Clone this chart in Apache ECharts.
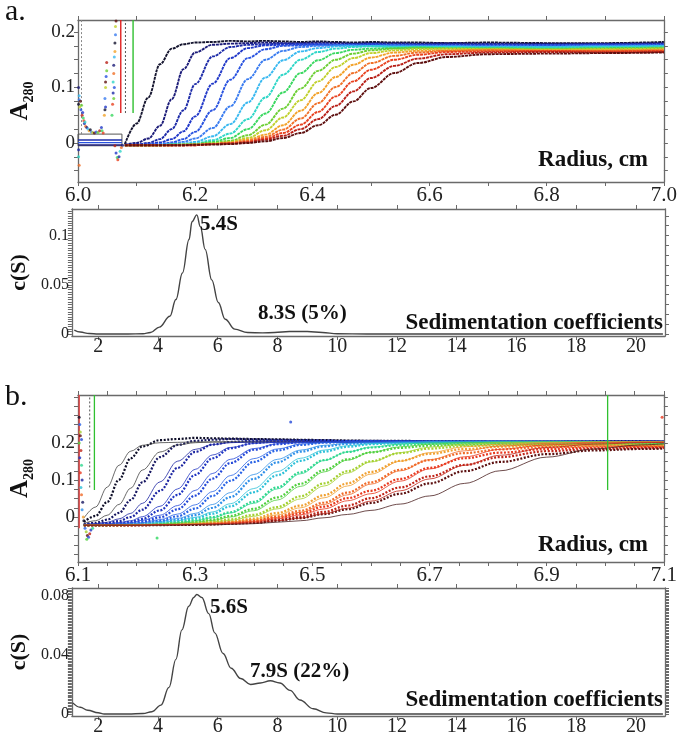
<!DOCTYPE html>
<html><head><meta charset="utf-8">
<script src="https://cdn.jsdelivr.net/npm/echarts@6/dist/echarts.min.js"></script>
<style>html,body{margin:0;padding:0;background:#fff}#c{width:680px;height:740px}</style>
</head><body><div id="c"></div>
<script>
// ---------- Panel a: radial scans (A280 vs radius, cm) ----------
const R_A = [6.08, 6.10, 6.12, 6.14, 6.16, 6.18, 6.20, 6.23, 6.26, 6.29, 6.32, 6.35, 6.38, 6.41, 6.44, 6.47, 6.50, 6.54, 6.58, 6.63, 6.70, 6.80, 6.90, 7.00];
const SCAN_A1 = [-.002, .035, .082, .142, .170, .178, .181, .182, .184, .183, .184, .183, .182, .183, .182, .181, .182, .181, .181, .180, .181, .180, .180, .182];
const SCAN_A2 = [-.003, .000, .008, .031, .079, .133, .163, .177, .179, .180, .181, .180, .180, .181, .180, .179, .180, .180, .179, .180, .179, .179, .179, .180];
const SCAN_A3 = [-.003, -.003, .000, .007, .025, .059, .106, .156, .173, .177, .178, .179, .178, .178, .177, .178, .178, .177, .177, .178, .177, .177, .178, .178];
const SCAN_A4 = [-.004, -.003, -.002, .001, .007, .021, .048, .107, .153, .171, .176, .177, .178, .178, .177, .177, .178, .177, .177, .176, .177, .176, .177, .177];
const SCAN_A5 = [-.004, -.004, -.003, -.002, .001, .007, .020, .059, .114, .153, .169, .175, .176, .177, .177, .176, .177, .176, .176, .176, .175, .176, .176, .177];
const SCAN_A6 = [-.004, -.004, -.003, -.003, -.001, .002, .008, .027, .066, .115, .150, .166, .173, .175, .176, .176, .175, .176, .175, .175, .175, .174, .175, .176];
const SCAN_A7 = [-.004, -.004, -.004, -.003, -.002, -.001, .002, .012, .034, .073, .118, .149, .165, .171, .174, .175, .175, .174, .174, .174, .173, .173, .174, .175];
const SCAN_A8 = [-.004, -.004, -.004, -.004, -.003, -.002, -.001, .005, .017, .043, .082, .123, .150, .164, .170, .173, .174, .173, .173, .173, .172, .172, .173, .174];
const SCAN_A9 = [-.004, -.004, -.004, -.004, -.003, -.003, -.002, .002, .009, .025, .053, .091, .126, .149, .162, .168, .170, .171, .172, .171, .171, .170, .171, .172];
const SCAN_A10 = [-.004, -.004, -.004, -.004, -.003, -.003, -.002, .000, .004, .014, .033, .062, .098, .130, .150, .161, .167, .170, .171, .170, .170, .169, .170, .171];
const SCAN_A11 = [-.004, -.004, -.004, -.004, -.004, -.003, -.003, -.001, .002, .009, .023, .046, .077, .111, .137, .153, .162, .167, .169, .170, .169, .168, .169, .170];
const SCAN_A12 = [-.004, -.004, -.004, -.004, -.004, -.003, -.003, -.002, .001, .006, .015, .032, .058, .090, .119, .141, .154, .163, .166, .167, .168, .167, .167, .168];
const SCAN_A13 = [-.004, -.004, -.004, -.004, -.004, -.004, -.003, -.002, .000, .004, .011, .024, .044, .072, .101, .126, .144, .157, .163, .166, .167, .166, .166, .167];
const SCAN_A14 = [-.004, -.004, -.004, -.004, -.004, -.004, -.004, -.002, -.001, .002, .008, .018, .033, .056, .084, .111, .132, .150, .159, .164, .165, .166, .165, .166];
const SCAN_A15 = [-.004, -.004, -.004, -.004, -.004, -.004, -.004, -.002, -.001, .001, .006, .013, .025, .043, .067, .093, .117, .139, .152, .160, .163, .164, .163, .164];
const SCAN_A16 = [-.004, -.004, -.004, -.004, -.004, -.004, -.003, -.003, -.002, .000, .003, .009, .018, .032, .051, .075, .099, .126, .144, .155, .160, .161, .162, .163];
// meniscus region debris, [radius, A280]
const DEBRIS_A = [[6.001,0.07],[6.002,0.078],[6.003,0.065],[6.004,0.075],[6.005,0.06],[6.006,0.068],[6.007,0.05],[6.008,0.055],[6.009,0.045],[6.010,0.04],[6.011,0.035],[6.012,0.038],[6.013,0.03],[6.015,0.028],[6.017,0.025],[6.019,0.022],[6.021,0.024],[6.023,0.02],[6.025,0.019],[6.028,0.018],[6.031,0.02],[6.034,0.019],[6.037,0.022],[6.040,0.028],[6.041,0.022],[6.043,0.018],
  [6.001,-0.012],[6.001,-0.025],[6.002,-0.04],[6.001,0.1],[6.002,0.085],
  [6.045,0.05],[6.046,0.06],[6.046,0.08],[6.047,0.1],[6.047,0.11],[6.048,0.12],[6.049,0.13],[6.049,0.145],[6.047,0.065],
  [6.058,0.05],[6.059,0.07],[6.060,0.09],[6.060,0.11],[6.061,0.125],[6.061,0.14],[6.062,0.155],[6.063,0.165],[6.063,0.18],[6.064,0.195],[6.064,0.21],[6.065,0.22],[6.062,0.1],[6.061,0.08],
  [6.063,-0.005],[6.065,-0.018],[6.067,-0.026],[6.068,-0.03],[6.070,-0.025],[6.072,-0.015],[6.074,-0.008],[6.076,-0.004]];
const A_RED_LINE = [[6.073, 0.054], [6.073, 0.2216]];
const A_DOT_LINE = [[6.081, 0.054], [6.081, 0.2216]];
const A_GREEN_LINE = [[6.094, 0.054], [6.094, 0.2216]];
const A_LEFT_DOT_LINE = [[6.006, 0.016], [6.006, 0.2216]];
const A_BOX = [[6.0, 0.016], [6.075, 0.016], [6.075, -0.005], [6.0, -0.005], [6.0, 0.016]];
const A_BOX_LEVELS = [0.0055, 0.0006, -0.0036];

// ---------- Panel b: radial scans ----------
const R_B = [6.11, 6.13, 6.15, 6.17, 6.19, 6.21, 6.24, 6.27, 6.30, 6.33, 6.36, 6.40, 6.44, 6.48, 6.52, 6.56, 6.60, 6.65, 6.70, 6.76, 6.82, 6.90, 6.98, 7.06, 7.10];
const SCAN_B1 = [-.013, .003, .041, .101, .159, .191, .208, .211, .214, .213, .212, .211, .210, .209, .208, .207, .206, .206, .205, .205, .204, .204, .205, .205, .204];
const SCAN_B2 = [-.019, -.016, -.007, .011, .046, .094, .162, .195, .206, .209, .211, .210, .209, .208, .207, .206, .206, .205, .205, .204, .204, .204, .204, .205, .204];
const SCAN_B3 = [-.021, -.019, -.016, -.011, .000, .020, .071, .133, .176, .196, .203, .206, .207, .206, .206, .205, .205, .205, .204, .204, .204, .204, .204, .204, .204];
const SCAN_B4 = [-.021, -.021, -.019, -.017, -.013, -.005, .018, .060, .114, .159, .186, .200, .205, .206, .206, .205, .205, .205, .204, .204, .204, .204, .204, .204, .203];
const SCAN_B5 = [-.021, -.021, -.020, -.019, -.016, -.012, -.001, .021, .058, .104, .146, .182, .197, .202, .204, .205, .205, .204, .204, .204, .204, .204, .204, .203, .203];
const SCAN_B6 = [-.022, -.021, -.021, -.020, -.018, -.016, -.010, .002, .023, .057, .098, .149, .180, .195, .201, .203, .204, .204, .204, .204, .204, .203, .203, .203, .203];
const SCAN_B7 = [-.022, -.022, -.021, -.021, -.020, -.018, -.014, -.007, .005, .025, .054, .103, .148, .177, .191, .198, .201, .202, .203, .203, .203, .203, .203, .202, .202];
const SCAN_B8 = [-.022, -.022, -.022, -.021, -.021, -.020, -.016, -.012, -.004, .009, .029, .067, .113, .152, .177, .190, .197, .200, .201, .202, .202, .202, .202, .201, .201];
const SCAN_B9 = [-.022, -.022, -.022, -.021, -.021, -.021, -.018, -.014, -.009, .000, .013, .041, .080, .121, .154, .176, .188, .195, .198, .199, .200, .200, .200, .200, .199];
const SCAN_B10 = [-.022, -.022, -.022, -.022, -.021, -.021, -.020, -.016, -.013, -.007, .003, .022, .053, .090, .127, .156, .175, .187, .193, .196, .197, .198, .198, .198, .197];
const SCAN_B11 = [-.022, -.022, -.022, -.022, -.021, -.021, -.019, -.018, -.015, -.012, -.006, .006, .027, .056, .091, .124, .151, .173, .185, .192, .194, .195, .196, .196, .195];
const SCAN_B12 = [-.022, -.022, -.022, -.022, -.022, -.021, -.020, -.019, -.018, -.015, -.012, -.004, .011, .031, .059, .091, .122, .152, .171, .184, .190, .193, .194, .194, .193];
const SCAN_B13 = [-.022, -.022, -.022, -.022, -.022, -.021, -.021, -.020, -.019, -.017, -.014, -.009, .002, .017, .039, .066, .094, .128, .154, .173, .183, .189, .191, .192, .191];
const SCAN_B14 = [-.022, -.022, -.022, -.022, -.022, -.022, -.021, -.020, -.019, -.018, -.015, -.011, -.002, .010, .028, .051, .071, .103, .133, .159, .174, .184, .188, .189, .189];
const SCAN_B15 = [-.022, -.022, -.022, -.022, -.022, -.022, -.021, -.021, -.020, -.019, -.017, -.014, -.008, .001, .014, .031, .051, .080, .110, .141, .162, .178, .184, .186, .187];
const SCAN_B16 = [-.022, -.022, -.022, -.022, -.022, -.022, -.022, -.021, -.021, -.020, -.018, -.016, -.010, -.003, .008, .021, .038, .063, .091, .124, .149, .170, .180, .184, .185];
// fitted model lines for the b scans
const FIT_B1 = [-.003, .027, .081, .140, .178, .194, .201, .202, .203, .203, .203, .203, .203, .203, .203, .203, .203, .203, .203, .203, .203, .203, .203, .203, .203];
const FIT_B2 = [-.017, -.010, .005, .034, .078, .127, .176, .195, .201, .203, .203, .203, .203, .203, .203, .203, .203, .203, .203, .203, .203, .203, .203, .203, .203];
const FIT_B3 = [-.020, -.018, -.014, -.005, .010, .037, .095, .151, .183, .196, .201, .203, .203, .203, .203, .203, .203, .203, .203, .203, .203, .203, .203, .203, .203];
const FIT_B4 = [-.021, -.020, -.018, -.015, -.010, .001, .029, .076, .129, .168, .188, .199, .202, .203, .203, .203, .203, .203, .203, .203, .203, .203, .203, .203, .203];
const FIT_B5 = [-.021, -.021, -.020, -.018, -.015, -.009, .005, .031, .072, .118, .156, .185, .198, .201, .203, .203, .203, .203, .203, .203, .203, .203, .203, .203, .203];
const FIT_B6 = [-.022, -.021, -.021, -.020, -.017, -.015, -.007, .008, .033, .069, .112, .158, .184, .197, .201, .203, .203, .203, .203, .203, .203, .203, .203, .203, .203];
const FIT_B7 = [-.022, -.022, -.021, -.021, -.020, -.017, -.012, -.004, .010, .034, .066, .115, .156, .181, .194, .199, .201, .203, .203, .203, .203, .203, .203, .203, .203];
const FIT_B8 = [-.022, -.022, -.022, -.021, -.021, -.020, -.015, -.010, -.001, .014, .036, .077, .123, .159, .181, .193, .198, .201, .203, .203, .203, .203, .203, .203, .203];
const FIT_B9 = [-.022, -.022, -.022, -.021, -.021, -.021, -.018, -.015, -.010, -.002, .011, .037, .076, .117, .153, .176, .189, .197, .201, .202, .203, .203, .203, .203, .203];
const FIT_B10 = [-.022, -.022, -.022, -.022, -.021, -.021, -.020, -.017, -.014, -.009, .000, .017, .046, .083, .122, .154, .175, .190, .197, .201, .202, .203, .203, .203, .203];
const FIT_B11 = [-.022, -.022, -.022, -.022, -.021, -.021, -.020, -.019, -.017, -.013, -.009, .002, .022, .049, .084, .119, .149, .174, .189, .197, .201, .202, .203, .203, .203];
const FIT_B12 = [-.022, -.022, -.022, -.022, -.022, -.021, -.021, -.020, -.018, -.016, -.013, -.007, .006, .025, .052, .084, .116, .151, .174, .190, .197, .201, .202, .203, .203];
const FIT_B13 = [-.022, -.022, -.022, -.022, -.022, -.021, -.021, -.020, -.019, -.018, -.015, -.011, -.001, .013, .034, .060, .089, .125, .155, .179, .192, .199, .202, .203, .203];
const FIT_B14 = [-.022, -.022, -.022, -.022, -.022, -.022, -.021, -.021, -.020, -.019, -.017, -.013, -.005, .006, .022, .044, .063, .097, .130, .163, .183, .195, .200, .202, .202];
const FIT_B15 = [-.022, -.022, -.022, -.022, -.022, -.022, -.021, -.021, -.020, -.019, -.018, -.016, -.010, -.003, .009, .024, .043, .071, .103, .140, .167, .188, .197, .201, .202];
const FIT_B16 = [-.022, -.022, -.022, -.022, -.022, -.022, -.022, -.022, -.021, -.021, -.020, -.018, -.014, -.010, -.002, .007, .018, .035, .057, .091, .125, .162, .184, .195, .198];
const DEBRIS_B = [[6.102,0.27],[6.103,0.25],[6.104,0.23],[6.104,0.22],[6.106,0.21],[6.102,0.2],[6.105,0.18],[6.103,0.16],[6.106,0.14],[6.104,0.12],[6.107,0.1],[6.105,0.08],[6.106,0.06],[6.108,0.04],[6.107,0.02],[6.109,0.0],[6.11,-0.01],
  [6.112,-0.03],[6.114,-0.04],[6.116,-0.05],[6.118,-0.055],[6.115,-0.06],[6.12,-0.045],[6.122,-0.035],[6.125,-0.03]];
const STRAY_B = [[6.463, 0.257], [6.235, -0.057], [7.097, 0.27]];
const B_RED_LINE = [[6.102, -0.03], [6.102, 0.33]];
const B_DOT_LINE = [[6.12, 0.08], [6.12, 0.33]];
const B_GREEN_LINE = [[6.128, 0.073], [6.128, 0.33]];
const B_GREEN_LINE2 = [[7.004, 0.073], [7.004, 0.33]];

// ---------- c(S) distributions ----------
const CS_A_S = [1.2, 1.4, 1.7, 2.0, 2.5, 3.0, 3.5, 3.75, 4.05, 4.4, 4.6, 4.82, 5.04, 5.14, 5.3, 5.42, 5.58, 5.8, 6.02, 6.25, 6.57, 7.0, 7.5, 7.9, 8.4, 9.0, 9.5, 10.0, 11, 13, 15, 17, 19, 20.9];
const CS_A_C = [0.004, 0.002, 0.0005, 0.0, 0.0, 0.0, 0.0003, 0.0015, 0.007, 0.018, 0.035, 0.062, 0.096, 0.114, 0.121, 0.109, 0.086, 0.055, 0.032, 0.015, 0.005, 0.0015, 0.0012, 0.0015, 0.0025, 0.0025, 0.0015, 0.0003, 0, 0, 0, 0, 0, 0];
const CS_B_S = [1.15, 1.4, 1.65, 2.0, 2.2, 3.0, 3.5, 3.8, 4.1, 4.37, 4.6, 4.8, 5.03, 5.2, 5.3, 5.47, 5.7, 5.9, 6.18, 6.45, 6.77, 7.1, 7.43, 7.76, 8.08, 8.42, 8.75, 9.2, 9.63, 10.0, 11, 13, 15, 17, 19, 20.9];
const CS_B_C = [0.0075, 0.0045, 0.0025, 0.0008, 0.0, 0.0, 0.0003, 0.0015, 0.006, 0.018, 0.037, 0.057, 0.073, 0.079, 0.081, 0.079, 0.068, 0.055, 0.041, 0.031, 0.024, 0.020, 0.021, 0.0225, 0.021, 0.016, 0.0095, 0.0035, 0.0007, 0, 0, 0, 0, 0, 0, 0];

// ---------- tick labels ----------
const A_X_LABELS = [6.0, 6.2, 6.4, 6.6, 6.8, 7.0];
const A_X_TICKS = [6.0, 6.1, 6.2, 6.3, 6.4, 6.5, 6.6, 6.7, 6.8, 6.9, 7.0];
const A_Y_LABELS = [0, 0.1, 0.2];
const B_X_LABELS = [6.1, 6.3, 6.5, 6.7, 6.9, 7.1];
const B_Y_LABELS = [0, 0.1, 0.2];
const S_X_LABELS = [2, 4, 6, 8, 10, 12, 14, 16, 18, 20];
const SA_Y_LABELS = [0, 0.05, 0.1];
const SB_Y_LABELS = [0, 0.04, 0.08];

const SERIF = 'Liberation Serif';
const AX = '#6a6a6a';
const COLORS_A = ['#14142e','#1b1b78','#1d2ba8','#2138c8','#2852e0','#3a7cf0','#38b8f0','#2fd6c8','#3ad860','#6ccf34','#c0d02c','#f2a22a','#f07028','#e84220','#b82018','#5e1010'];
const COLORS_B = ['#0e0e28','#171762','#1c25a2','#1f34c2','#2448d8','#2a64e6','#2f90e8','#2cc0d8','#30d890','#52d040','#a4d030','#f0a030','#f06a28','#e83a20','#c02418','#5c1010'];
const STRAY_COLORS = ['#2448d8', '#30d860', '#e83a20'];

function steps(a, b, d) { const out = []; const n = Math.round((b - a) / d); for (let i = 0; i <= n; i++) out.push(+(a + i * d).toFixed(5)); return out; }
const fmtR = v => v.toFixed(1);
const fmtY = v => Math.abs(v) < 1e-9 ? '0' : String(+v.toFixed(3));
const fmtS = v => String(Math.round(v));

function xAxes(g, min, max, labels, ticks, fmt, fs, margin) {
  return [
    { gridIndex: g, type: 'value', min, max, position: 'bottom',
      axisLine: { show: true, onZero: false, lineStyle: { color: AX, width: 1.3 } },
      axisTick: { show: true, length: 4, customValues: ticks, lineStyle: { color: AX } },
      axisLabel: { show: true, customValues: labels, formatter: fmt, fontFamily: SERIF, fontSize: fs, color: '#222', margin, showMinLabel: true, showMaxLabel: true },
      splitLine: { show: false } },
    { gridIndex: g, type: 'value', min, max, position: 'top',
      axisLine: { show: true, onZero: false, lineStyle: { color: AX, width: 1.3 } },
      axisTick: { show: true, length: 4, customValues: ticks, lineStyle: { color: AX } },
      axisLabel: { show: false }, splitLine: { show: false } }
  ];
}
function yAxes(g, min, max, labels, ticksL, ticksR, fs, name, nameStyle, nameGap) {
  return [
    { gridIndex: g, type: 'value', min, max, position: 'left',
      name, nameLocation: 'middle', nameRotate: 90, nameGap, nameTextStyle: nameStyle,
      axisLine: { show: true, onZero: false, lineStyle: { color: AX, width: 1.3 } },
      axisTick: { show: true, length: 4, customValues: ticksL, lineStyle: { color: AX } },
      axisLabel: { show: true, customValues: labels, formatter: fmtY, fontFamily: SERIF, fontSize: fs, color: '#222', margin: 3, showMinLabel: true, showMaxLabel: true },
      splitLine: { show: false } },
    { gridIndex: g, type: 'value', min, max, position: 'right',
      axisLine: { show: true, onZero: false, lineStyle: { color: AX, width: 1.3 } },
      axisTick: { show: true, length: 4, customValues: ticksR, lineStyle: { color: AX } },
      axisLabel: { show: false }, splitLine: { show: false } }
  ];
}

const A280 = { fontFamily: SERIF, fontWeight: 'bold', fontSize: 25, color: '#111',
  rich: { a: { fontFamily: SERIF, fontWeight: 'bold', fontSize: 25, color: '#111', lineHeight: 28, verticalAlign: 'top' },
          s: { fontFamily: SERIF, fontWeight: 'bold', fontSize: 14, color: '#111', lineHeight: 14, padding: [14, 0, 0, 0], verticalAlign: 'top' } } };
const CS = { fontFamily: SERIF, fontWeight: 'bold', fontSize: 22, color: '#111' };

const xAxis = [].concat(
  xAxes(0, 6.0, 7.0, A_X_LABELS, A_X_TICKS, fmtR, 21, 3),
  xAxes(1, 1.12, 20.97, S_X_LABELS, S_X_LABELS, fmtS, 20, 1),
  xAxes(2, 6.1, 7.1, B_X_LABELS, steps(6.1, 7.1, 0.05), fmtR, 21, 3),
  xAxes(3, 1.12, 20.97, S_X_LABELS, S_X_LABELS, fmtS, 20, 1)
);
const yAxis = [].concat(
  yAxes(0, -0.0703, 0.2216, A_Y_LABELS, steps(-0.05, 0.2, 0.025), steps(-0.05, 0.2, 0.025), 19, '{a|A}{s|280}', A280, 42),
  yAxes(1, -0.002, 0.127, SA_Y_LABELS, steps(0, 0.125, 0.0025), steps(0, 0.12, 0.01), 16, 'c(S)', CS, 38),
  yAxes(2, -0.1216, 0.33, B_Y_LABELS, steps(-0.1, 0.325, 0.025), steps(-0.1, 0.325, 0.025), 19, '{a|A}{s|280}', A280, 42),
  yAxes(3, -0.0014, 0.0854, SB_Y_LABELS, steps(0, 0.085, 0.001), steps(0, 0.085, 0.001), 16, 'c(S)', CS, 40)
);

const series = [];
function line(g, data, color, width, type, smooth, z) {
  series.push({ type: 'line', xAxisIndex: 2 * g, yAxisIndex: 2 * g, data, showSymbol: false, symbol: 'none',
    smooth: smooth || false, smoothMonotone: 'x', lineStyle: { color, width, type: type || 'solid' }, silent: true, z: z || 2 });
}
// panel a
const SCANS_A = [SCAN_A1, SCAN_A2, SCAN_A3, SCAN_A4, SCAN_A5, SCAN_A6, SCAN_A7, SCAN_A8, SCAN_A9, SCAN_A10, SCAN_A11, SCAN_A12, SCAN_A13, SCAN_A14, SCAN_A15, SCAN_A16];
SCANS_A.forEach((arr, i) => line(0, arr.map((v, j) => [R_A[j], v]), COLORS_A[i], 1.9, [3, 0.8], 0.35, 2));
line(0, A_BOX, '#555', 1, 'solid', false, 3);
A_BOX_LEVELS.forEach((lv, i) => line(0, [[6.0, lv], [6.075, lv]], ['#1d2ba8', '#2852e0', '#1b1b78'][i], 1.4, 'solid', false, 3));
line(0, A_LEFT_DOT_LINE, '#888', 1, [2, 2], false, 3);
line(0, A_RED_LINE, '#e02020', 1.4, 'solid', false, 3);
line(0, A_DOT_LINE, '#555', 1, [2, 2], false, 3);
line(0, A_GREEN_LINE, '#30c030', 1.4, 'solid', false, 3);
series.push({ type: 'scatter', xAxisIndex: 0, yAxisIndex: 0, symbolSize: 3, silent: true, z: 4,
  data: DEBRIS_A.map((p, i) => ({ value: p, itemStyle: { color: COLORS_A[(i * 5) % 16] } })) });
// c(S) a
line(1, CS_A_S.map((s, i) => [s, CS_A_C[i]]), '#444', 1.4, 'solid', 0.4, 2);
// panel b
const SCANS_B = [SCAN_B1, SCAN_B2, SCAN_B3, SCAN_B4, SCAN_B5, SCAN_B6, SCAN_B7, SCAN_B8, SCAN_B9, SCAN_B10, SCAN_B11, SCAN_B12, SCAN_B13, SCAN_B14, SCAN_B15, SCAN_B16];
const FITS_B = [FIT_B1, FIT_B2, FIT_B3, FIT_B4, FIT_B5, FIT_B6, FIT_B7, FIT_B8, FIT_B9, FIT_B10, FIT_B11, FIT_B12, FIT_B13, FIT_B14, FIT_B15, FIT_B16];
SCANS_B.forEach((arr, i) => line(2, arr.map((v, j) => [R_B[j], v]), COLORS_B[i], 2.2, [2, 1.6], 0.35, 2));
FITS_B.forEach((arr, i) => line(2, arr.map((v, j) => [R_B[j], v]), i < 2 ? '#444' : (i === 15 ? '#4a2020' : COLORS_B[i]), 0.8, 'solid', 0.35, 3));
line(2, B_RED_LINE, '#e04040', 1.4, 'solid', false, 3);
line(2, B_DOT_LINE, '#555', 1, [2, 2], false, 3);
line(2, B_GREEN_LINE, '#30c030', 1.3, 'solid', false, 3);
line(2, B_GREEN_LINE2, '#30c030', 1.3, 'solid', false, 3);
series.push({ type: 'scatter', xAxisIndex: 4, yAxisIndex: 4, symbolSize: 3, silent: true, z: 4,
  data: DEBRIS_B.map((p, i) => ({ value: p, itemStyle: { color: COLORS_B[(i * 5) % 16] } }))
    .concat(STRAY_B.map((p, i) => ({ value: p, itemStyle: { color: STRAY_COLORS[i] } }))) });
// c(S) b
line(3, CS_B_S.map((s, i) => [s, CS_B_C[i]]), '#444', 1.4, 'solid', 0.4, 2);

function txt(x, y, text, size, bold, align) {
  return { type: 'text', x, y, silent: true, z: 100,
    style: { text, fontFamily: SERIF, fontSize: size, fontWeight: bold ? 'bold' : 'normal', fill: '#111', align: align || 'left', verticalAlign: 'middle' } };
}

const option = {
  animation: false,
  backgroundColor: '#fff',
  textStyle: { fontFamily: SERIF },
  grid: [
    { left: 62, top: 20, width: 603, height: 162 },
    { left: 61, top: 209, width: 604, height: 127 },
    { left: 62, top: 395, width: 604, height: 167 },
    { left: 62, top: 588, width: 603, height: 128 }
  ],
  xAxis, yAxis, series,
  graphic: [
    txt(5, 12, 'a.', 30, false),
    txt(5, 397, 'b.', 30, false),
    txt(648, 160, 'Radius, cm', 23, true, 'right'),
    txt(648, 545, 'Radius, cm', 23, true, 'right'),
    txt(663, 323, 'Sedimentation coefficients', 23, true, 'right'),
    txt(663, 700, 'Sedimentation coefficients', 23, true, 'right'),
    txt(200, 225, '5.4S', 21, true),
    txt(258, 314, '8.3S (5%)', 21, true),
    txt(210, 608, '5.6S', 21, true),
    txt(250, 672, '7.9S (22%)', 21, true)
  ]
};
const chart = echarts.init(document.getElementById('c'), null, { renderer: 'canvas' });
chart.setOption(option);
</script>
</body></html>
